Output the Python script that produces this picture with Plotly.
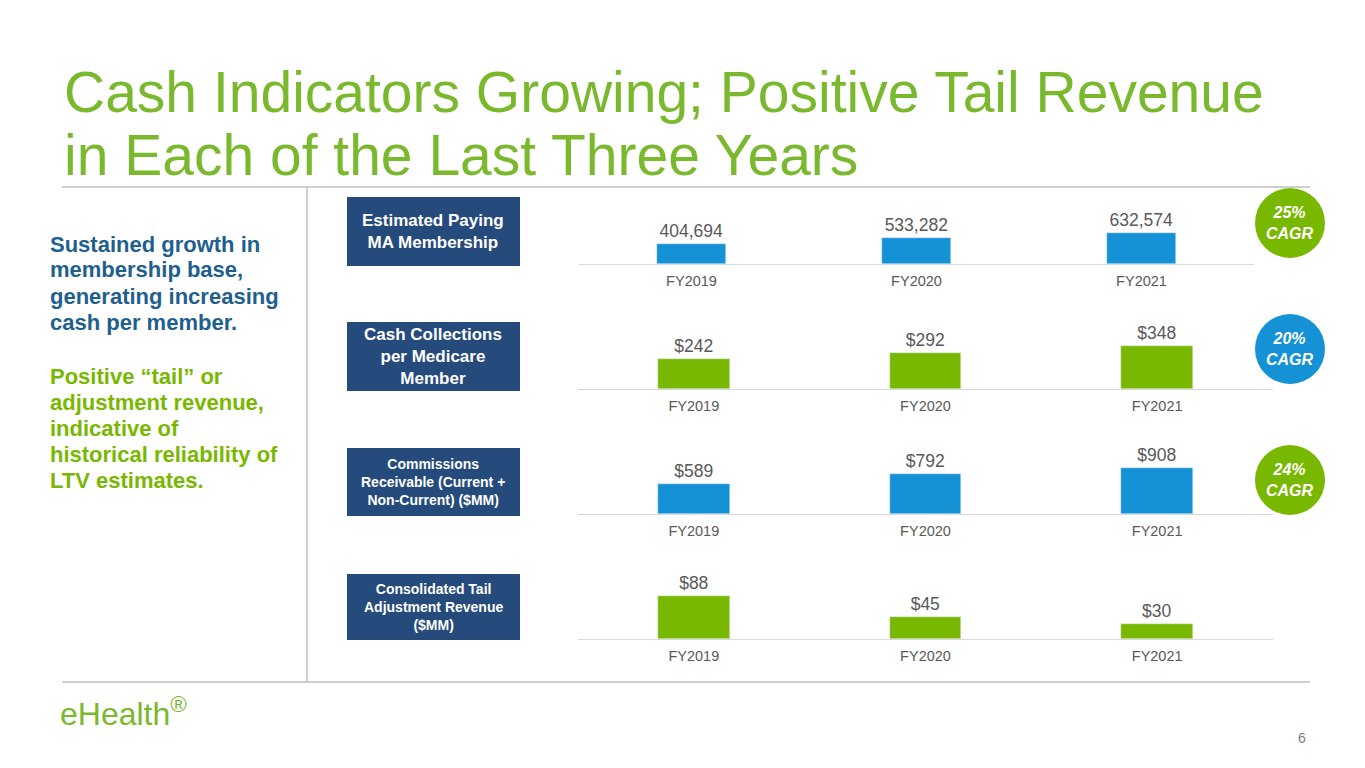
import plotly.graph_objects as go

W, H = 1365, 768
OFF = 8  # page margin offset seen in the rendering
years = ["FY2019", "FY2020", "FY2021"]
membership = [404694, 533282, 632574]
cash_per_member = [242, 292, 348]
commissions = [589, 792, 908]
tail_revenue = [88, 45, 30]

panel_names = ["Estimated Paying<br>MA Membership",
               "Cash Collections<br>per Medicare<br>Member",
               "Commissions<br>Receivable (Current +<br>Non-Current) ($MM)",
               "Consolidated Tail<br>Adjustment Revenue<br>($MM)"]
cagr = ["25%<br>CAGR", "20%<br>CAGR", "24%<br>CAGR"]

GREEN = "#78b800"
BLUE = "#1591d6"
NAVY = "#254a7c"
GRAY = "#7f7f7f"


def px(x):
    return (x - OFF) / W


def py(y):
    return 1 - (y - OFF) / H


# (values, colour, text format, px per unit, baseline px, x range px)
panels = [
    (membership, BLUE, "%{y:,}", 20 / 404694, 264, (579, 1254)),
    (cash_per_member, GREEN, "$%{y}", 43 / 348, 389, (578, 1273)),
    (commissions, BLUE, "$%{y}", 46 / 908, 514, (578, 1273)),
    (tail_revenue, GREEN, "$%{y}", 43 / 88, 639, (578, 1273)),
]

fig = go.Figure()
layout = {}
for i, (vals, col, fmt, scale, base, (x0, x1)) in enumerate(panels, start=1):
    sfx = "" if i == 1 else str(i)
    fig.add_trace(go.Bar(x=years, y=vals, marker_color=col, width=0.31,
                         texttemplate=fmt, textposition="outside", cliponaxis=False,
                         textfont=dict(size=17.5, color="#595959", family="Arial"),
                         xaxis="x" + sfx, yaxis="y" + sfx, showlegend=False))
    top = base - 75
    layout["xaxis" + sfx] = dict(domain=[px(x0), px(x1)], anchor="y" + sfx,
                                 showline=True, linecolor="#d9d9d9", linewidth=1,
                                 ticks="outside", ticklen=4, tickcolor="rgba(0,0,0,0)",
                                 tickfont=dict(size=14.5, color="#595959", family="Arial"),
                                 range=[-0.5, 2.5], fixedrange=True)
    layout["yaxis" + sfx] = dict(domain=[py(base), py(top)], anchor="x" + sfx,
                                 range=[0, 75 / scale], visible=False, fixedrange=True)
fig.update_layout(**layout)

shapes = [
    dict(type="line", x0=62, x1=1310, y0=187, y1=187, line=dict(color="#bfbfbf", width=1.5)),
    dict(type="line", x0=62, x1=1310, y0=682, y1=682, line=dict(color="#bfbfbf", width=1.5)),
    dict(type="line", x0=307, x1=307, y0=187, y1=682, line=dict(color="#bfbfbf", width=1.5)),
]
boxes = [(197, 266), (322, 391), (448, 516), (574, 640)]
for (y0, y1) in boxes:
    shapes.append(dict(type="rect", x0=347, x1=520, y0=y0, y1=y1, fillcolor=NAVY, line_width=0))
circles = [(223, GREEN), (349, BLUE), (480, GREEN)]
for cy, col in circles:
    shapes.append(dict(type="circle", x0=1255, x1=1325, y0=cy - 35, y1=cy + 35, fillcolor=col, line_width=0))
for s in shapes:
    s.update(xref="paper", yref="paper")
    s["x0"], s["x1"] = px(s["x0"]), px(s["x1"])
    s["y0"], s["y1"] = py(s["y1"]), py(s["y0"])
fig.update_layout(shapes=shapes)

ann = []


def txt(x, y, t, size, color, bold=False, xanchor="left", align="left", italic=False):
    if bold:
        t = "<b>" + t + "</b>"
    if italic:
        t = "<i>" + t + "</i>"
    ann.append(dict(x=px(x), y=py(y), xref="paper", yref="paper", text=t, showarrow=False,
                    xanchor=xanchor, yanchor="middle", align=align,
                    font=dict(size=size, color=color, family="Arial")))


txt(62, 92, "Cash Indicators Growing; Positive Tail Revenue", 57, "#7ab82e")
txt(62, 155, "in Each of the Last Three Years", 57, "#7ab82e")
for k, line in enumerate(["Sustained growth in", "membership base,", "generating increasing", "cash per member."]):
    txt(48, 244 + 26 * k, line, 22, "#1f5f8f", bold=True)
for k, line in enumerate(["Positive “tail” or", "adjustment revenue,", "indicative of", "historical reliability of", "LTV estimates."]):
    txt(48, 376 + 26 * k, line, 22, GREEN, bold=True)
sizes = [17, 17, 14, 14]
for (y0, y1), name, sz in zip(boxes, panel_names, sizes):
    txt(433, (y0 + y1) / 2, name, sz, "white", bold=True, xanchor="center", align="center")
for (cy, col), t in zip(circles, cagr):
    txt(1290, cy, t, 16, "white", bold=True, italic=True, xanchor="center", align="center")
txt(58, 712, "eHealth<sup>®</sup>", 32, "#7ab82e")
txt(1308, 738, "6", 14, GRAY, xanchor="right")
fig.update_layout(annotations=ann, width=W, height=H, margin=dict(l=0, r=0, t=0, b=0),
                  plot_bgcolor="white", paper_bgcolor="white", bargap=0)
fig.write_html("out.html")
